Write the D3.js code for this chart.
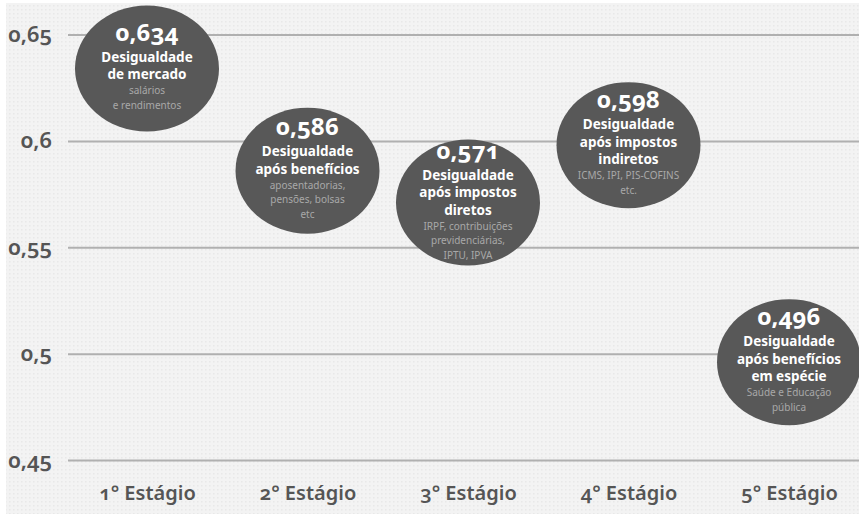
<!DOCTYPE html>
<html lang="pt-BR">
<head>
<meta charset="utf-8">
<script src="https://cdn.jsdelivr.net/npm/d3@7"></script>
<style>
  html, body { margin: 0; padding: 0; background: #ffffff; }
  svg { display: block; }
  text { font-family: "Noto Sans", "Open Sans", sans-serif; font-variant-numeric: oldstyle-nums; }
</style>
</head>
<body>
<svg id="chart" width="859" height="514"></svg>
<script>
// Estágios da redistribuição e o índice de Gini em cada um
const stages = ["1° Estágio", "2° Estágio", "3° Estágio", "4° Estágio", "5° Estágio"];
const gini = [0.634, 0.586, 0.571, 0.598, 0.496];
const titles = [
  ["Desigualdade", "de mercado"],
  ["Desigualdade", "após benefícios"],
  ["Desigualdade", "após impostos", "diretos"],
  ["Desigualdade", "após impostos", "indiretos"],
  ["Desigualdade", "após benefícios", "em espécie"]
];
const notes = [
  ["salários", "e rendimentos"],
  ["aposentadorias,", "pensões, bolsas", "etc"],
  ["IRPF, contribuições", "previdenciárias,", "IPTU, IPVA"],
  ["ICMS, IPI, PIS-COFINS", "etc."],
  ["Saúde e Educação", "pública"]
];
const yTicks = [0.45, 0.5, 0.55, 0.6, 0.65];
const yTickLabels = ["0,45", "0,5", "0,55", "0,6", "0,65"];

const W = 859, H = 514;
const svg = d3.select("#chart");

// fundo pontilhado
const defs = svg.append("defs");
const pat = defs.append("pattern")
  .attr("id", "dots").attr("width", 4).attr("height", 4)
  .attr("patternUnits", "userSpaceOnUse");
pat.append("rect").attr("width", 4).attr("height", 4).attr("fill", "#f3f3f3");
pat.append("rect").attr("x", 1).attr("y", 1).attr("width", 1.5).attr("height", 1.5).attr("fill", "#e8e8e8");
svg.append("rect").attr("x", 6).attr("y", 3).attr("width", W - 6).attr("height", H - 3)
  .attr("fill", "url(#dots)");

const x = d3.scalePoint().domain(stages).range([147, 789]);
const y = d3.scaleLinear().domain([0.45, 0.65]).range([460, 34.5]);

const ptBR = d3.formatLocale({ decimal: ",", thousands: ".", grouping: [3], currency: ["R$", ""] });
const fmtValue = ptBR.format(".3f");

// eixo Y com linhas de grade
const yAxis = svg.append("g")
  .attr("transform", "translate(68,0)")
  .call(d3.axisLeft(y)
    .tickValues(yTicks)
    .tickFormat((d, i) => yTickLabels[i])
    .tickSize(-(W - 68))
    .tickPadding(16));
yAxis.select(".domain").remove();
yAxis.selectAll(".tick line").attr("stroke", "#b0b0b0").attr("stroke-width", 2);
yAxis.selectAll(".tick text")
  .attr("fill", "#555555")
  .style("font-size", "22px")
  .style("font-weight", 600);

// eixo X com os estágios
const xAxis = svg.append("g")
  .attr("transform", "translate(0,476)")
  .call(d3.axisBottom(x).tickSize(0).tickPadding(10));
xAxis.select(".domain").remove();
xAxis.selectAll(".tick text")
  .attr("fill", "#555555")
  .style("font-size", "20px")
  .style("font-weight", 600);

// bolhas
const RX = 72, RY = 63;
const data = stages.map((s, i) => ({ stage: s, value: gini[i], title: titles[i], note: notes[i] }));

const bubble = svg.append("g").selectAll("g.bubble")
  .data(data).join("g")
  .attr("class", "bubble")
  .attr("transform", d => `translate(${x(d.stage)},${y(d.value)})`);

bubble.append("ellipse")
  .attr("rx", RX).attr("ry", RY)
  .attr("fill", "#585858");

bubble.each(function (d) {
  const g = d3.select(this);
  const lines = [];
  let off = 0;
  lines.push({ text: fmtValue(d.value), kind: "value", y: off });
  d.title.forEach((t, k) => { off += k === 0 ? 21 : 17.5; lines.push({ text: t, kind: "title", y: off }); });
  d.note.forEach((t, k) => { off += k === 0 ? 15 : 14.5; lines.push({ text: t, kind: "note", y: off }); });
  const start = -off / 2 + 6;
  g.selectAll("text").data(lines).join("text")
    .attr("text-anchor", "middle")
    .attr("y", l => start + l.y)
    .attr("fill", l => l.kind === "note" ? "#a8a8a8" : "#ffffff")
    .style("font-size", l => l.kind === "value" ? "24px" : l.kind === "title" ? "13.5px" : "10px")
    .style("font-weight", l => l.kind === "note" ? 400 : 700)
    .text(l => l.text);
});
</script>
</body>
</html>
